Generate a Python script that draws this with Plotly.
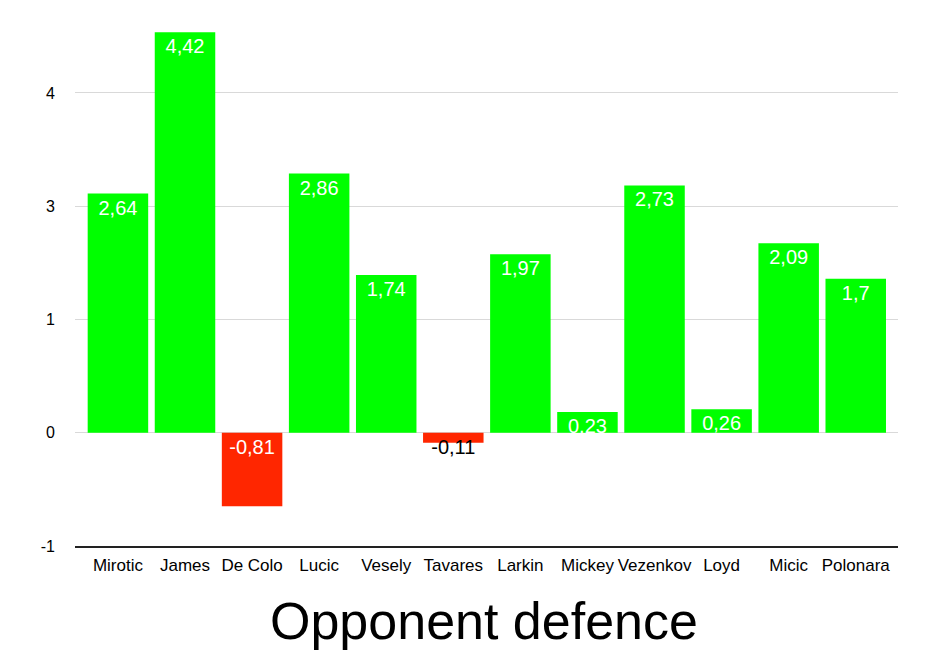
import plotly.graph_objects as go

players = ["Mirotic", "James", "De Colo", "Lucic", "Vesely", "Tavares",
           "Larkin", "Mickey", "Vezenkov", "Loyd", "Micic", "Polonara"]
values = [2.64, 4.42, -0.81, 2.86, 1.74, -0.11, 1.97, 0.23, 2.73, 0.26, 2.09, 1.70]
labels = ["2,64", "4,42", "-0,81", "2,86", "1,74", "-0,11", "1,97", "0,23", "2,73", "0,26", "2,09", "1,7"]
y_tickvals = [-1.25, 0, 1.25, 2.5, 3.75]
y_ticktext = ["-1", "0", "1", "3", "4"]

GREEN = "#00FF00"
RED = "#FF2600"
FONT = "Liberation Sans, Arial, Helvetica, sans-serif"

pos_y = [v if v >= 0 else None for v in values]
pos_t = [t if v >= 0 else "" for v, t in zip(values, labels)]
neg_y = [v if v < 0 else None for v in values]
neg_t = [t if v < 0 else "" for v, t in zip(values, labels)]
# small negative bars: label overflows the bar, drawn in black
neg_col = ["black" if (v < 0 and v > -0.3) else "white" for v in values]

fig = go.Figure()
fig.add_trace(go.Bar(
    x=players, y=pos_y, text=pos_t,
    marker=dict(color=GREEN, line=dict(width=0)),
    textposition="inside", insidetextanchor="end",
    textfont=dict(color="white", size=20, family=FONT),
    constraintext="none", hoverinfo="skip",
))
fig.add_trace(go.Bar(
    x=players, y=neg_y, text=neg_t,
    marker=dict(color=RED, line=dict(width=0)),
    textposition="inside", insidetextanchor="start",
    textfont=dict(color=neg_col, size=20, family=FONT),
    constraintext="none", hoverinfo="skip",
))

fig.update_layout(
    width=933, height=648,
    margin=dict(l=67, r=43, t=17, b=110.3, pad=0),
    paper_bgcolor="white", plot_bgcolor="white",
    barmode="relative", bargap=0.098,
    showlegend=False,
    font=dict(family=FONT, color="black"),
    uniformtext=dict(minsize=20, mode="show"),
    xaxis=dict(
        range=[-0.64, 11.63],
        showline=True, linecolor="#222222", linewidth=2,
        showgrid=False, ticks="",
        tickfont=dict(size=17, color="black", family=FONT),
        ticklabelstandoff=3,
        fixedrange=True,
    ),
    yaxis=dict(
        range=[-1.25, 4.5],
        tickvals=y_tickvals, ticktext=y_ticktext,
        showgrid=True, gridcolor="#d9d9d9", gridwidth=1,
        zeroline=True, zerolinecolor="#d9d9d9", zerolinewidth=1,
        showline=False, ticks="",
        tickfont=dict(size=16, color="black", family=FONT),
        ticklabelstandoff=19,
        fixedrange=True,
    ),
    annotations=[dict(
        text="Opponent defence", xref="paper", yref="paper",
        x=0.4965, y=-0.143, xanchor="center", yanchor="middle",
        showarrow=False, font=dict(size=52, color="black", family=FONT),
    )],
)

fig.write_html("out.html")
